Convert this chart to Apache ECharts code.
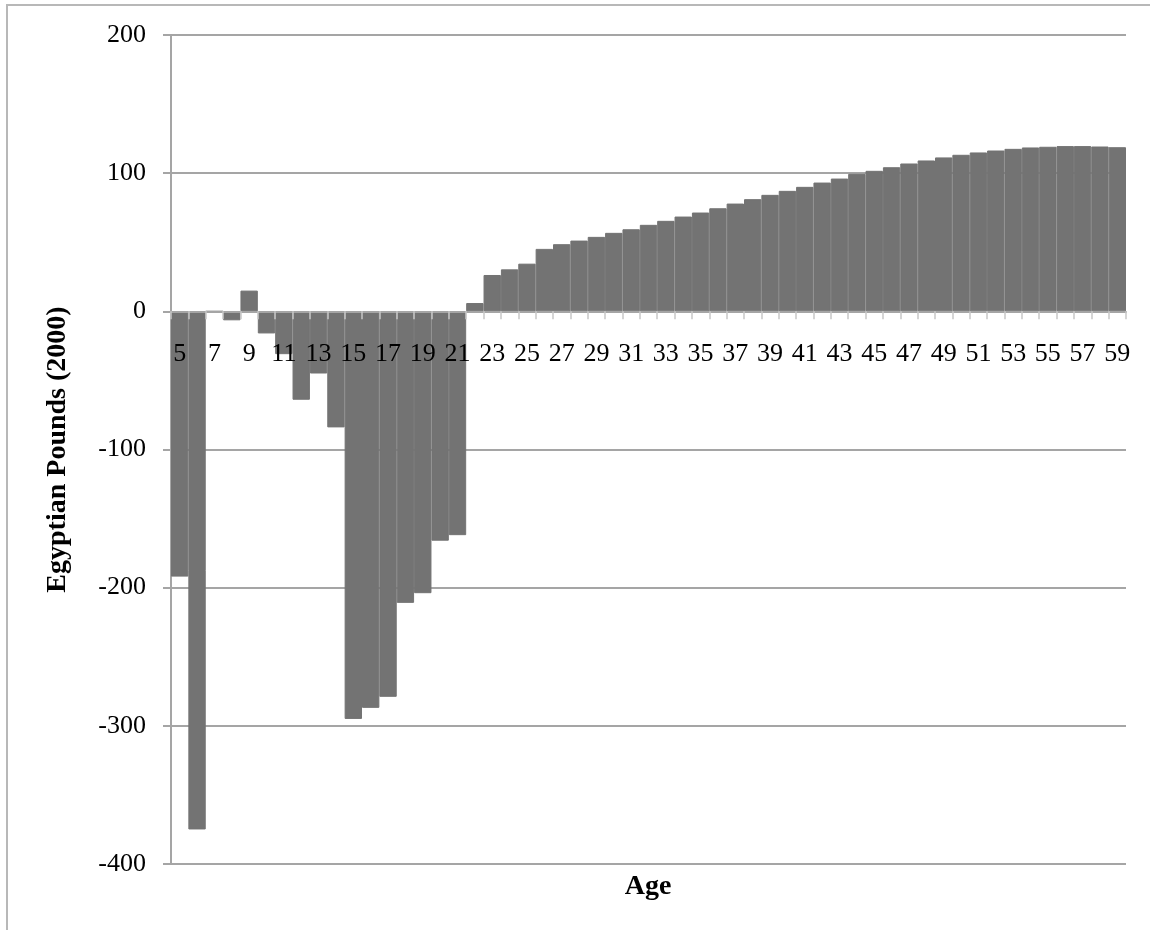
<!DOCTYPE html>
<html>
<head>
<meta charset="utf-8">
<script src="https://cdn.jsdelivr.net/npm/echarts@6/dist/echarts.min.js"></script>
<style>
  html, body { margin: 0; padding: 0; background: #fff; }
  #main { width: 1150px; height: 930px; }
</style>
</head>
<body>
<div id="main"></div>
<script>
// 年龄 5 - 59
var ages = [];
for (var a = 5; a <= 59; a++) { ages.push(String(a)); }

// 各年龄的值 (Egyptian Pounds 2000)
var values = [
  -192, -375, 0, -6.5, 15, -16, -31, -64, -45, -84,
  -295, -287, -279, -211, -204, -166, -162, 6, 26.3, 30.4,
  34.5, 45.2, 48.6, 51.2, 53.9, 56.8, 59.4, 62.6, 65.5, 68.6,
  71.5, 74.6, 78, 81.2, 84.3, 87.2, 90.1, 93.2, 96.1, 99.5,
  101.7, 104.3, 107, 109.2, 111.4, 113.3, 115, 116.4, 117.6, 118.6,
  119.1, 119.6, 119.6, 119.3, 118.8
];

var yTicks = { min: -400, max: 200, step: 100 };

var serif = '"Liberation Serif", "DejaVu Serif", serif';
var gridColor = '#a5a5a5';
var barColor = '#737373';

// 布局
var gridTop = 35, gridBottom = 66, chartH = 930;
var plotH = chartH - gridTop - gridBottom;
// x 轴放在 0 处 (从底边往上移)
var zeroOffset = -plotH * (0 - yTicks.min) / (yTicks.max - yTicks.min);

var myChart = echarts.init(document.getElementById('main'));
var option = {
    animation: false,
    backgroundColor: '#fff',
    grid: { left: 171, right: 24, top: gridTop, bottom: gridBottom },
    graphic: [{
        type: 'rect',
        shape: { x: 7, y: 5, width: 1300, height: 1100 },
        style: { fill: 'none', stroke: '#b8b8b8', lineWidth: 2 },
        silent: true
    }, {
        // x 轴名称 "Age"
        type: 'text',
        x: 648,
        y: 887,
        style: {
            text: 'Age',
            align: 'center',
            verticalAlign: 'middle',
            fill: '#000',
            font: 'bold 28px ' + serif
        },
        silent: true
    }],
    xAxis: {
        type: 'category',
        data: ages,
        position: 'bottom',
        offset: zeroOffset,
        z: 5,
        axisLine: { onZero: false, lineStyle: { color: gridColor, width: 2 } },
        axisTick: { show: true, interval: 0, length: 8, lineStyle: { color: '#c8c8c8', width: 1.5 } },
        axisLabel: {
            interval: 1,
            margin: 30,
            color: '#000',
            fontFamily: serif,
            fontSize: 26
        }
    },
    yAxis: {
        type: 'value',
        min: yTicks.min,
        max: yTicks.max,
        interval: yTicks.step,
        name: 'Egyptian Pounds (2000)',
        nameLocation: 'middle',
        nameGap: 99,
        nameTextStyle: { color: '#000', fontFamily: serif, fontWeight: 'bold', fontSize: 28 },
        axisLine: { show: true, lineStyle: { color: gridColor, width: 2 } },
        axisTick: { show: true, length: 8, lineStyle: { color: gridColor, width: 2 } },
        axisLabel: { margin: 25, color: '#000', fontFamily: serif, fontSize: 26 },
        splitLine: { show: true, lineStyle: { color: gridColor, width: 2 } }
    },
    series: [{
        type: 'bar',
        data: values,
        barCategoryGap: '0%',
        itemStyle: { color: barColor, borderColor: barColor, borderWidth: 1 }
    }]
};
myChart.setOption(option);
</script>
</body>
</html>
